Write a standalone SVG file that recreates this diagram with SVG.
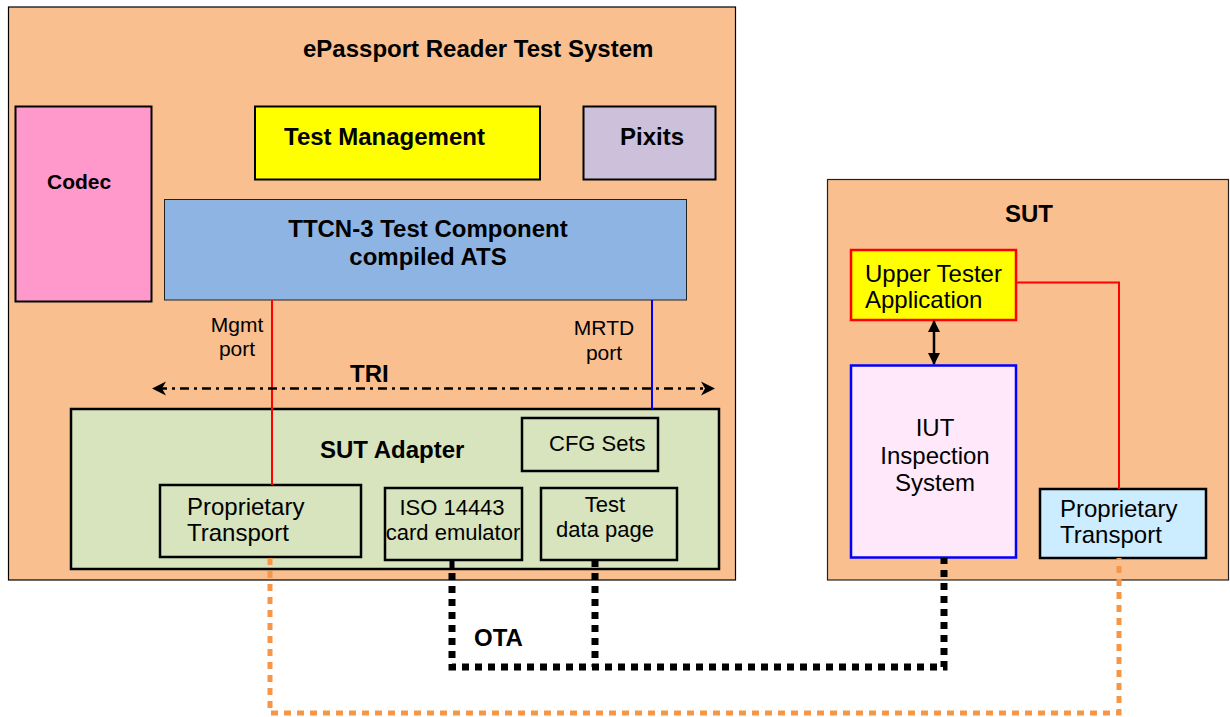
<svg xmlns="http://www.w3.org/2000/svg" width="1230" height="717" viewBox="0 0 1230 717">
<defs>
<style>
.b{font-family:"Liberation Sans",Arial,sans-serif;font-weight:bold;font-size:24px;fill:#000}
.r{font-family:"Liberation Sans",Arial,sans-serif;font-size:22px;fill:#000}
.L{font-size:24px}
.s{font-family:"Liberation Sans",Arial,sans-serif;font-size:21px;fill:#000}
.m{text-anchor:middle}
.thick{stroke:#000;stroke-width:2.5}
</style>
<marker id="dbl" viewBox="0 0 12 12" refX="11" refY="6" markerWidth="12" markerHeight="12" markerUnits="userSpaceOnUse" orient="auto-start-reverse">
<path d="M0,0 L12,6 L0,12 Z" fill="#000"/>
</marker>
</defs>
<rect width="1230" height="717" fill="#fff"/>

<g id="test-system">
<rect x="8.5" y="7" width="727" height="573" fill="#F9BF8F" stroke="#000" stroke-width="1.2"/>
<text class="b" x="303" y="57">ePassport Reader Test System</text>
</g>

<g id="codec">
<rect x="15.5" y="106.5" width="136" height="195" fill="#FF99CC" stroke="#000" stroke-width="2"/>
<text class="b" x="47" y="189" style="font-size:21px">Codec</text>
</g>

<g id="test-management">
<rect x="255" y="106.5" width="285" height="73" fill="#FFFF00" stroke="#000" stroke-width="2"/>
<text class="b" x="284" y="145">Test Management</text>
</g>

<g id="pixits">
<rect x="583.5" y="106.5" width="132" height="73" fill="#CCC0DA" stroke="#000" stroke-width="2"/>
<text class="b" x="620" y="145">Pixits</text>
</g>

<g id="ttcn3">
<rect x="164.5" y="199.5" width="522" height="100.5" fill="#8EB4E3" stroke="#222" stroke-width="1"/>
<text class="b m" x="428" y="237">TTCN-3 Test Component</text>
<text class="b m" x="428" y="265">compiled ATS</text>
</g>

<g id="sut-adapter">
<rect x="71" y="409" width="648" height="160" fill="#D7E4BD" class="thick"/>
<text class="b" x="320" y="458">SUT Adapter</text>
</g>

<g id="cfg-sets">
<rect x="522" y="418" width="136" height="53" fill="#D7E4BD" class="thick"/>
<text class="r" x="549" y="451">CFG Sets</text>
</g>

<g id="proprietary-transport-left">
<rect x="160" y="485" width="201" height="72" fill="#D7E4BD" class="thick"/>
<text class="r L" x="187" y="515">Proprietary</text>
<text class="r L" x="187" y="541">Transport</text>
</g>

<g id="iso14443">
<rect x="385" y="488" width="137" height="72" fill="#D7E4BD" class="thick"/>
<text class="r m" x="452" y="515">ISO 14443</text>
<text class="r m" x="453" y="540">card emulator</text>
</g>

<g id="test-data-page">
<rect x="541" y="488" width="136" height="72" fill="#D7E4BD" class="thick"/>
<text class="r m" x="605" y="512">Test</text>
<text class="r m" x="605" y="537">data page</text>
</g>

<g id="sut">
<rect x="827.5" y="179.5" width="401" height="400.5" fill="#F9BF8F" stroke="#222" stroke-width="1.2"/>
<text class="b m" x="1029" y="222">SUT</text>
</g>

<g id="upper-tester">
<rect x="851" y="250" width="165" height="70" fill="#FFFF00" stroke="#FF0000" stroke-width="2.5"/>
<text class="r L" x="865" y="282">Upper Tester</text>
<text class="r L" x="865" y="308">Application</text>
</g>

<g id="iut">
<rect x="851" y="365.5" width="165" height="192" fill="#FFE8FA" stroke="#0000FF" stroke-width="2.5"/>
<text class="r L m" x="935" y="436">IUT</text>
<text class="r L m" x="935" y="464">Inspection</text>
<text class="r L m" x="935" y="491">System</text>
</g>

<g id="proprietary-transport-right">
<rect x="1040" y="489" width="166" height="69" fill="#CCECFF" class="thick"/>
<text class="r L" x="1060" y="517">Proprietary</text>
<text class="r L" x="1060" y="543">Transport</text>
</g>

<g id="connectors" fill="none">
<line x1="272" y1="300" x2="272" y2="485" stroke="#FF0000" stroke-width="2"/>
<line x1="652" y1="300" x2="652" y2="409" stroke="#0000FF" stroke-width="2"/>
<text class="s m" x="237" y="332">Mgmt</text>
<text class="s m" x="237" y="356">port</text>
<text class="s m" x="604" y="335">MRTD</text>
<text class="s m" x="604" y="360">port</text>
<line x1="158" y1="388.5" x2="709" y2="388.5" stroke="#000" stroke-width="2.5" stroke-dasharray="9 5 3 5"/>
<path d="M152,388.5 L166,381.5 L162,388.5 L166,395.5 Z" fill="#000"/>
<path d="M715,388.5 L701,381.5 L705,388.5 L701,395.5 Z" fill="#000"/>
<text class="b" x="350" y="382">TRI</text>
<polyline points="1016,282.5 1119,282.5 1119,489" stroke="#FF0000" stroke-width="2"/>
<line x1="934" y1="321" x2="934" y2="364" stroke="#000" stroke-width="2.5" marker-start="url(#dbl)" marker-end="url(#dbl)"/>
<polyline points="270,558 270,713 1119,713 1119,558" stroke="#F79646" stroke-width="5" stroke-dasharray="7 6"/>
<line x1="452" y1="560" x2="452" y2="569" stroke="#000" stroke-width="5"/>
<polyline points="452,573 452,667 944,667 944,558" stroke="#000" stroke-width="7" stroke-dasharray="7 6"/>
<line x1="595" y1="560" x2="595" y2="667" stroke="#000" stroke-width="7" stroke-dasharray="7 6"/>
<text class="b" x="474" y="646">OTA</text>
</g>
</svg>
